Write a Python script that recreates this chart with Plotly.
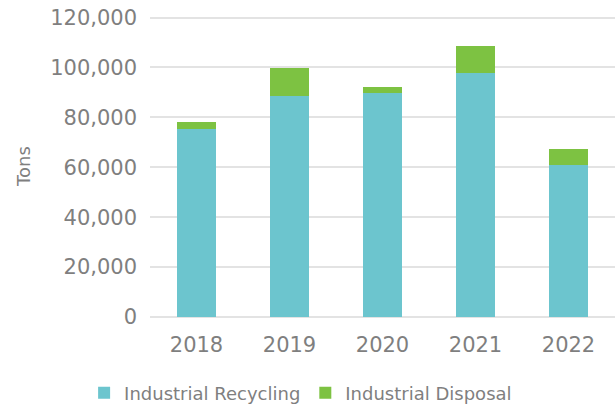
import plotly.graph_objects as go

years = ["2018", "2019", "2020", "2021", "2022"]
recycling = [75200, 88700, 89700, 97600, 60800]
disposal = [2900, 10900, 2400, 10800, 6400]

font_family = "DejaVu Sans, Lato, sans-serif"
grey = "#7f7f7f"

fig = go.Figure()
fig.add_trace(go.Bar(x=years, y=recycling, name="Industrial Recycling",
                     marker=dict(color="#6cc5ce", line=dict(width=0))))
fig.add_trace(go.Bar(x=years, y=disposal, name="Industrial Disposal",
                     marker=dict(color="#7dc242", line=dict(width=0))))

fig.update_layout(
    barmode="stack",
    bargap=0.59,
    width=616, height=406,
    margin=dict(l=150, r=1, t=15, b=89, autoexpand=False),
    paper_bgcolor="white", plot_bgcolor="white",
    font=dict(family=font_family, color=grey, size=18),
    showlegend=True,
    legend=dict(orientation="h", x=0.488, xref="container", xanchor="center",
                y=0.032, yref="container", yanchor="middle",
                font=dict(size=18, color=grey),
                itemwidth=30, itemsizing="constant", traceorder="normal"),
    xaxis=dict(showgrid=False, showline=False, ticks="", automargin=False,
               ticklabelstandoff=13, tickfont=dict(size=21, color=grey)),
    yaxis=dict(range=[0, 121000], tickvals=[0, 20000, 40000, 60000, 80000, 100000, 120000],
               tickformat=",", showgrid=True,
               automargin=False, ticklabeloverflow="allow",
               gridcolor="#e3e3e3", gridwidth=1.5, zeroline=True, zerolinecolor="#e3e3e3",
               zerolinewidth=1.5, tickfont=dict(size=21, color=grey), ticks="",
               ticklabelstandoff=12,
               title=dict(text="Tons", font=dict(size=18, color=grey), standoff=14)),
)
fig.write_html("out.html", config={"displayModeBar": False},
               post_script="document.body.style.margin='0';")
